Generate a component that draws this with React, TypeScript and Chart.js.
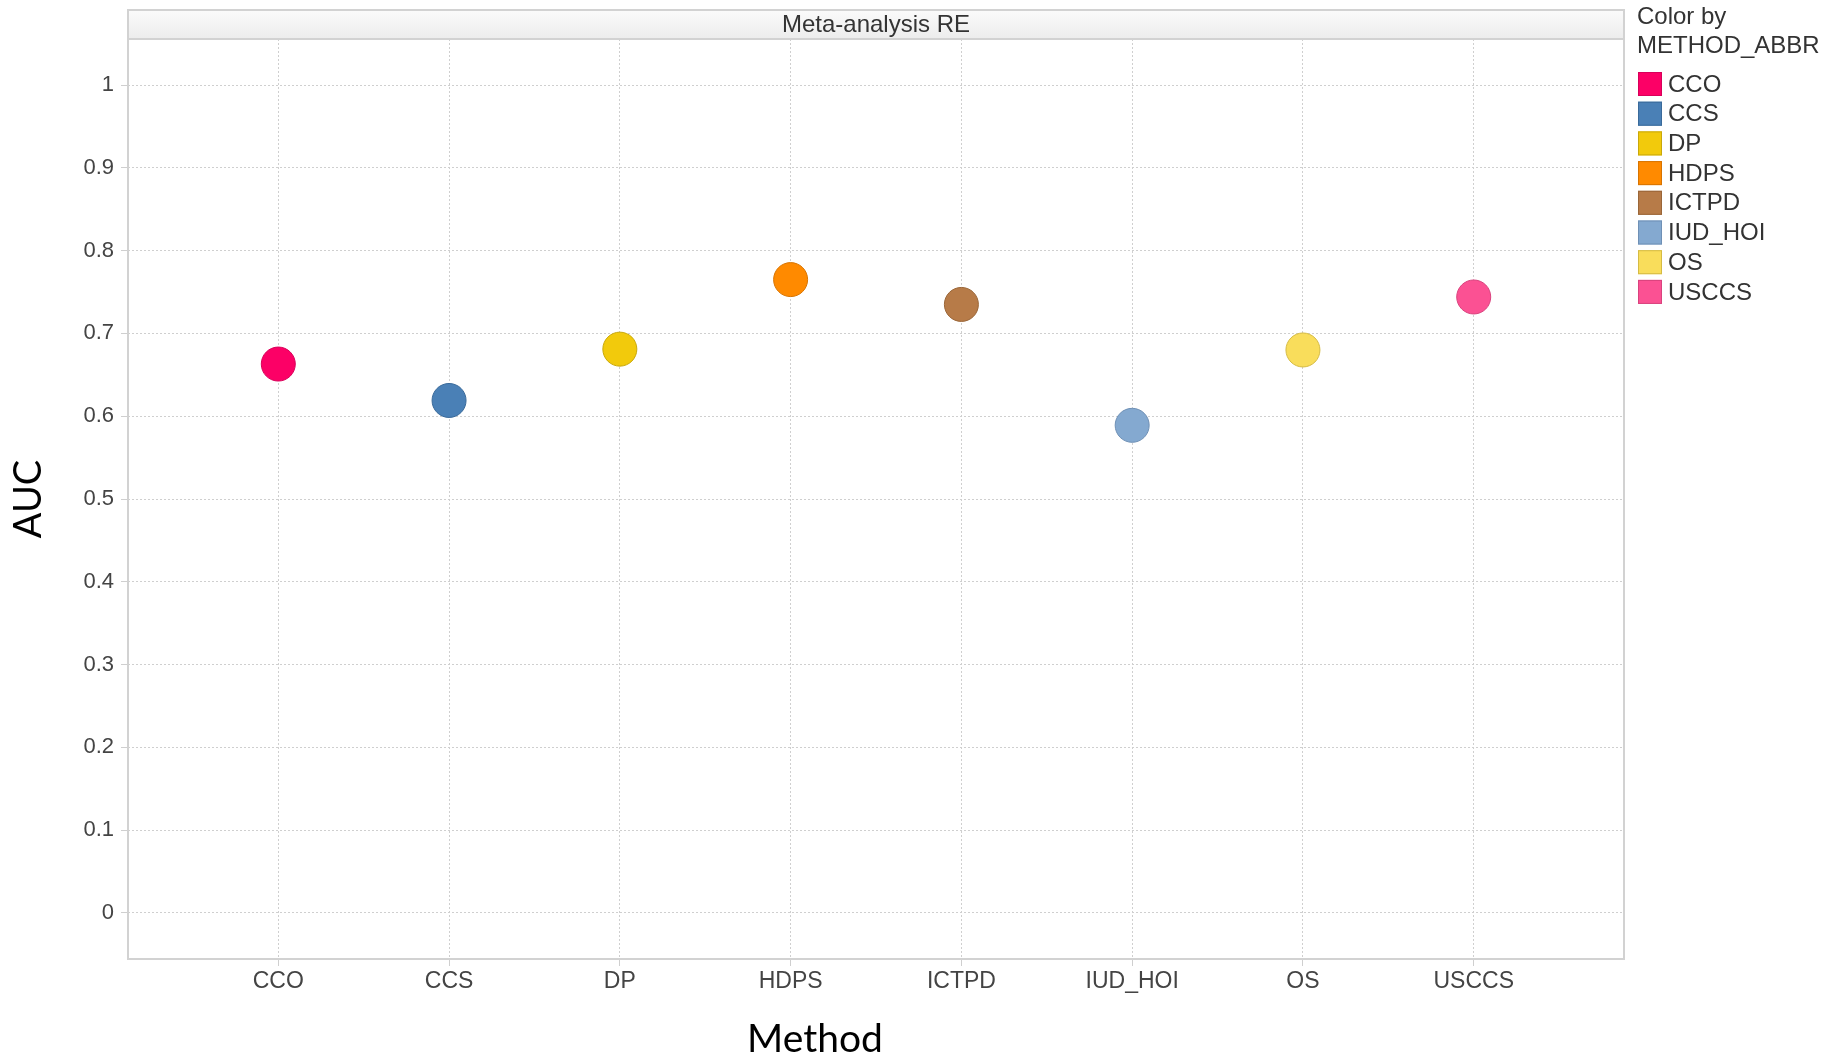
import React, { useEffect, useRef } from "react";
import { Chart, registerables } from "chart.js";

Chart.register(...registerables);

const categories = ["CCO", "CCS", "DP", "HDPS", "ICTPD", "IUD_HOI", "OS", "USCCS"];
const aucValues = [0.663, 0.619, 0.681, 0.765, 0.735, 0.589, 0.680, 0.744];
const fillColors = ["#FC0066", "#4A80B6", "#F2CA0C", "#FF8A00", "#B77B48", "#84A9D0", "#F9DD5B", "#FB5193"];
const borderColors = ["#D8005A", "#3A6A9A", "#C9A80A", "#D87400", "#9A6638", "#6F90B5", "#D5BB44", "#D9437E"];
const yTicks = [0, 0.1, 0.2, 0.3, 0.4, 0.5, 0.6, 0.7, 0.8, 0.9, 1];
const chartTitle = "Meta-analysis RE";
const xTitle = "Method";
const yTitle = "AUC";
const legendTitle = ["Color by", "METHOD_ABBR"];

const framePlugin = {
  id: "frame",
  beforeDraw(chart: any) {
    const { ctx, chartArea } = chart;
    const { left, right, top } = chartArea;
    ctx.save();
    const bandTop = 10;
    const g = ctx.createLinearGradient(0, bandTop, 0, top);
    g.addColorStop(0, "#fbfbfb");
    g.addColorStop(1, "#ececec");
    ctx.fillStyle = g;
    ctx.fillRect(left, bandTop, right - left, top - bandTop);
    ctx.strokeStyle = "#d2d2d2";
    ctx.lineWidth = 2;
    ctx.strokeRect(left, bandTop, right - left, top - bandTop);
    ctx.fillStyle = "#333333";
    ctx.font = "24px 'Liberation Sans', Arial, sans-serif";
    ctx.textAlign = "center";
    ctx.textBaseline = "middle";
    ctx.fillText(chartTitle, (left + right) / 2, (bandTop + top) / 2 + 1);
    ctx.restore();
  },
  afterDraw(chart: any) {
    const { ctx, chartArea } = chart;
    const { left, right, top, bottom } = chartArea;
    ctx.save();
    ctx.strokeStyle = "#d2d2d2";
    ctx.lineWidth = 2;
    ctx.strokeRect(left, top, right - left, bottom - top);
    // x axis title
    ctx.fillStyle = "#000000";
    ctx.font = "39px Lato, 'Open Sans', sans-serif";
    ctx.textAlign = "center";
    ctx.textBaseline = "middle";
    ctx.fillText(xTitle, 815, 1039);
    // legend
    const lx = right + 14;
    ctx.fillStyle = "#333333";
    ctx.font = "24px 'Liberation Sans', Arial, sans-serif";
    ctx.textAlign = "left";
    ctx.textBaseline = "middle";
    ctx.fillText(legendTitle[0], lx - 1, 17);
    ctx.fillText(legendTitle[1], lx - 1, 46);
    categories.forEach((c, i) => {
      const cy = 84 + i * 29.7;
      ctx.fillStyle = fillColors[i];
      ctx.fillRect(lx, cy - 12, 24, 24);
      ctx.strokeStyle = borderColors[i];
      ctx.lineWidth = 1;
      ctx.strokeRect(lx + 0.5, cy - 11.5, 23, 23);
      ctx.fillStyle = "#333333";
      ctx.font = "24px 'Liberation Sans', Arial, sans-serif";
      ctx.fillText(c, lx + 30, cy + 1);
    });
    ctx.restore();
  },
};

export default function App() {
  const ref = useRef<HTMLCanvasElement | null>(null);
  useEffect(() => {
    if (!ref.current) return;
    const chart = new Chart(ref.current, {
      type: "scatter",
      data: {
        datasets: [
          {
            label: "AUC",
            data: aucValues.map((v, i) => ({ x: i, y: v })),
            backgroundColor: fillColors,
            borderColor: borderColors,
            borderWidth: 1,
            pointRadius: 17,
            pointHoverRadius: 17,
          },
        ],
      },
      options: {
        responsive: false,
        animation: false,
        layout: { padding: { top: 39, right: 217, left: 0, bottom: 0 } },
        plugins: { legend: { display: false }, tooltip: { enabled: false } },
        scales: {
          x: {
            type: "linear",
            min: -0.88,
            max: 7.88,
            afterBuildTicks: (scale: any) => {
              scale.ticks = categories.map((_, i) => ({ value: i }));
            },
            afterFit: (scale: any) => {
              scale.height = 101;
            },
            ticks: {
              callback: (v: any) => categories[Math.round(Number(v))] ?? "",
              color: "#444444",
              font: { size: 23, family: "'Liberation Sans', Arial, sans-serif" },
              padding: 2,
              maxRotation: 0,
              autoSkip: false,
            },
            grid: {
              color: "#cfcfcf",
              lineWidth: 1,
              tickLength: 7,
              tickColor: "#cfcfcf",
            },
            border: { display: false, dash: [2, 2] },
            title: { display: false },
          },
          y: {
            type: "linear",
            min: -0.0556,
            max: 1.0556,
            afterBuildTicks: (scale: any) => {
              scale.ticks = yTicks.map((v) => ({ value: v }));
            },
            afterFit: (scale: any) => {
              scale.width = 128;
            },
            ticks: {
              callback: (v: any) => String(Math.round(Number(v) * 10) / 10),
              color: "#444444",
              font: { size: 22, family: "'Liberation Sans', Arial, sans-serif" },
              padding: 7,
            },
            grid: {
              color: "#cfcfcf",
              lineWidth: 1,
              tickLength: 7,
              tickColor: "#cfcfcf",
            },
            border: { display: false, dash: [2, 2] },
            title: {
              display: true,
              text: yTitle,
              color: "#000000",
              font: { size: 38, family: "Lato, 'Open Sans', sans-serif" },
              padding: { top: 6, bottom: 0 },
            },
          },
        },
      },
      plugins: [framePlugin],
    } as any);
    return () => chart.destroy();
  }, []);
  return (
    <div style={{ position: "fixed", left: 0, top: 0, width: 1841, height: 1060, background: "#ffffff" }}>
      <canvas ref={ref} width={1841} height={1060} style={{ display: "block" }} />
    </div>
  );
}
